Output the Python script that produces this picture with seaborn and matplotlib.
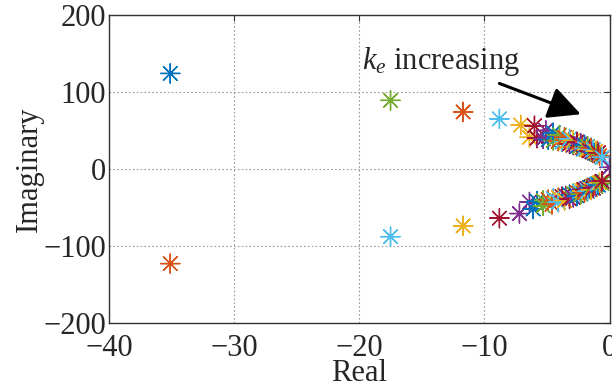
import numpy as np
import pandas as pd
import matplotlib
matplotlib.use("Agg")
import matplotlib.pyplot as plt
import seaborn as sns

# MATLAB default colour order
matlab_colors = ["#0072BD", "#D95319", "#EDB120", "#7E2F8E",
                 "#77AC30", "#4DBEEE", "#A2142F"]

# Branch 1 (poles 1 & 2 of each gain step)
b1_up_re = [-35.1, -17.5, -11.7, -8.8, -7.1, -6.0, -5.1, -4.5, -4.0, -3.6, -3.2,
            -2.9, -2.6, -2.3, -2.0, -1.75, -1.5, -1.3, -1.1, -0.9, 0.0]
b1_up_im = [124, 89, 74, 65, 57, 56, 50, 47, 44, 41, 39,
            37, 35, 33, 31, 29, 27, 25, 23, 21, 2]
b1_lo_re = [-35.1, -17.5, -11.7, -8.8, -7.2, -6.1, -5.3, -4.6, -4.1, -3.6, -3.2,
            -2.9, -2.6, -2.3, -2.0, -1.75, -1.5, -1.3, -1.1, -0.9, -0.6]
b1_lo_im = [-123, -88, -74, -64, -58, -52, -48, -46, -43, -41, -39,
            -37, -35, -33, -31, -29, -27, -25, -23, -21, -19]
# Branch 2 (poles 3 & 4 of each gain step)
b2_up_re = [-6.4, -5.8, -5.3, -4.9, -4.5, -4.1, -3.8, -3.5, -3.2, -2.9, -2.6,
            -2.4, -2.2, -2.0, -1.8, -1.6, -1.4, -1.2, -1.0, -0.8, -0.6]
b2_up_im = [41, 40, 39, 38, 37, 36, 35, 34, 32.5, 31, 29.5,
            28.5, 27.5, 26.5, 25, 23.5, 22, 20.5, 19, 17, 15]
b2_lo_re = [-6.4, -5.8, -5.3, -4.9, -4.5, -4.1, -3.8, -3.5, -3.2, -2.9, -2.6,
            -2.4, -2.2, -2.0, -1.8, -1.6, -1.4, -1.2, -1.0, -0.8, -0.6]
b2_lo_im = [-43, -42, -41, -40, -38.5, -37, -36, -35, -33.5, -32, -30.5,
            -29.5, -28.5, -27, -25.5, -24, -22.5, -21, -19.5, -18, -16]

x_ticks = [-40, -30, -20, -10, 0]
y_ticks = [-200, -100, 0, 100, 200]

rows = []
order = 0
for k in range(len(b1_up_re)):
    for re, im in ((b1_up_re[k], b1_up_im[k]), (b1_lo_re[k], b1_lo_im[k]),
                   (b2_up_re[k], b2_up_im[k]), (b2_lo_re[k], b2_lo_im[k])):
        rows.append({"Real": re, "Imag": im, "cid": order % 7})
        order += 1
df = pd.DataFrame(rows)

sns.set_style("white")
plt.rcParams["font.family"] = ["Liberation Serif", "DejaVu Serif"]
plt.rcParams["mathtext.fontset"] = "custom"
plt.rcParams["mathtext.rm"] = "Liberation Serif"
plt.rcParams["mathtext.it"] = "Liberation Serif:italic"

FS = 22

fig = plt.figure(figsize=(6.12, 3.83), dpi=100)
ax = fig.add_axes([0.178, 0.157, 0.818, 0.804])

sns.scatterplot(data=df, x="Real", y="Imag", hue="cid",
                palette={i: c for i, c in enumerate(matlab_colors)},
                marker=(8, 2, 0), s=190, linewidth=1.0, legend=False, ax=ax,
                clip_on=True)

ax.set_xlim(-40, 0)
ax.set_ylim(-200, 200)
ax.set_xticks(x_ticks)
ax.set_yticks(y_ticks)
ax.grid(True, color="#9a9a9a", linestyle=(0, (1.5, 2)), linewidth=0.8)
ax.tick_params(direction="in", top=True, right=True, length=4, width=0.8,
               labelsize=FS, color="#333333", pad=2)
ax.tick_params(axis="x", pad=8)
for sp in ax.spines.values():
    sp.set_color("#333333")
    sp.set_linewidth(1.0)
ax.set_xlabel("Real", fontsize=FS, labelpad=-3)
ax.set_ylabel("Imaginary", fontsize=FS, labelpad=0)

ax.text(-19.8, 130, r"$k_e$ increasing", fontsize=FS)
ax.annotate("", xy=(-2.3, 71), xytext=(-8.8, 111),
            arrowprops=dict(arrowstyle="-|>,head_length=0.9,head_width=0.45",
                            color="black", lw=2.2, mutation_scale=22,
                            shrinkA=0, shrinkB=0))

fig.savefig("out.png", dpi=100)
